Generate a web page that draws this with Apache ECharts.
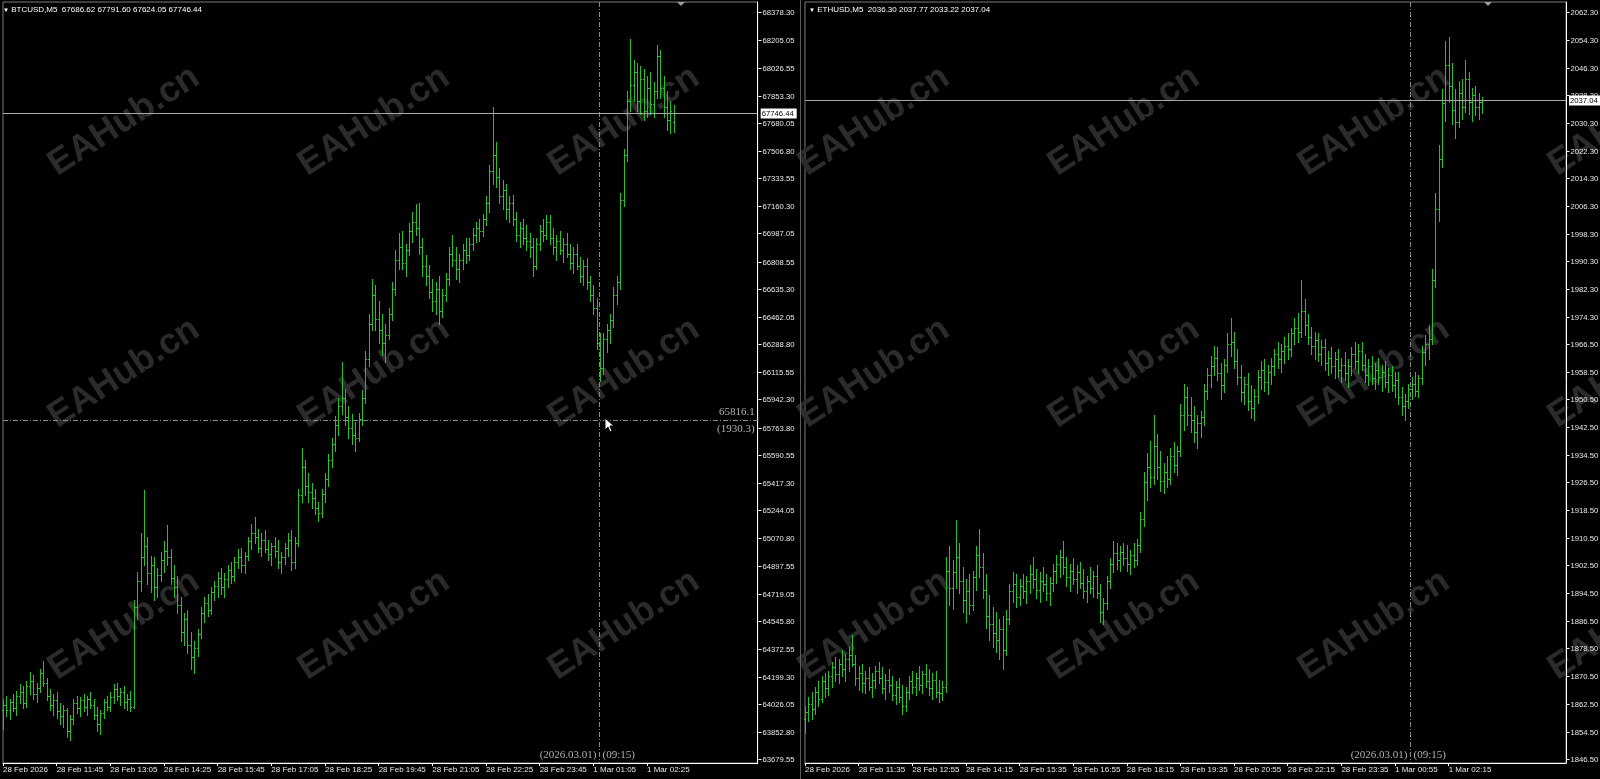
<!DOCTYPE html>
<html>
<head>
<meta charset="utf-8">
<script src="https://cdn.jsdelivr.net/npm/echarts@6/dist/echarts.min.js"></script>
<style>
  html, body { margin: 0; padding: 0; background: #000; }
  #main { width: 1600px; height: 779px; }
</style>
</head>
<body>
<div id="main"></div>
<script>
const btcYTickLabels = ["68378.30","68205.05","68026.55","67853.30","67680.05","67506.80","67333.55","67160.30","66987.05","66808.55","66635.30","66462.05","66288.80","66115.55","65942.30","65763.80","65590.55","65417.30","65244.05","65070.80","64897.55","64719.05","64545.80","64372.55","64199.30","64026.05","63852.80","63679.55"];
const ethYTickLabels = ["2062.30","2054.30","2046.30","2038.30","2030.30","2022.30","2014.30","2006.30","1998.30","1990.30","1982.30","1974.30","1966.50","1958.50","1950.50","1942.50","1934.50","1926.50","1918.50","1910.50","1902.50","1894.50","1886.50","1878.50","1870.50","1862.50","1854.50","1846.50"];
const btcXTickLabels = ["28 Feb 2026","28 Feb 11:45","28 Feb 13:05","28 Feb 14:25","28 Feb 15:45","28 Feb 17:05","28 Feb 18:25","28 Feb 19:45","28 Feb 21:05","28 Feb 22:25","28 Feb 23:45","1 Mar 01:05","1 Mar 02:25"];
const ethXTickLabels = ["28 Feb 2026","28 Feb 11:35","28 Feb 12:55","28 Feb 14:15","28 Feb 15:35","28 Feb 16:55","28 Feb 18:15","28 Feb 19:35","28 Feb 20:55","28 Feb 22:15","28 Feb 23:35","1 Mar 00:55","1 Mar 02:15"];

// M5 bars: [open, high, low, close]
const btcBars = [
  [63990,64060,63870,64020],[64020,64080,63950,63990],[63990,64060,63930,64040],[64040,64090,63980,64000],[64000,64110,63960,64080],
  [64080,64150,64030,64100],[64100,64140,64000,64030],[64030,64170,64010,64140],[64140,64230,64090,64170],[64170,64210,64060,64090],
  [64090,64160,64040,64130],[64130,64250,64100,64220],[64220,64300,64140,64160],[64160,64190,64050,64080],[64080,64120,63990,64020],
  [64020,64090,63960,64050],[64050,64100,63940,63980],[63980,64030,63900,63950],[63950,64020,63880,63990],[63990,64000,63820,63860],
  [63860,63960,63800,63930],[63930,64060,63900,64030],[64030,64080,63970,64000],[64000,64070,63950,64050],[64050,64090,63980,64010],
  [64010,64080,63960,64060],[64060,64100,64000,64020],[64020,64060,63930,63960],[63960,64010,63860,63900],[63900,63990,63840,63970],
  [63970,64060,63940,64040],[64040,64080,63990,64010],[64010,64100,63980,64070],[64070,64150,64030,64120],[64120,64160,64050,64080],
  [64080,64130,64020,64100],[64100,64140,64000,64040],[64040,64090,63990,64060],[64060,64110,63980,64010],[64010,64680,64000,64640],
  [64640,64860,64560,64800],[64800,65100,64740,64950],[64950,65370,64900,65020],[65020,65080,64780,64850],[64850,64960,64730,64900],
  [64900,64950,64680,64760],[64760,64880,64700,64840],[64840,64980,64800,64930],[64930,65050,64860,64990],[64990,65150,64900,64950],
  [64950,65000,64780,64820],[64820,64900,64700,64760],[64760,64830,64600,64650],[64650,64700,64420,64480],[64480,64600,64400,64560],
  [64560,64620,64350,64400],[64400,64480,64250,64320],[64320,64420,64220,64380],[64380,64500,64330,64470],[64470,64640,64440,64600],
  [64600,64700,64540,64660],[64660,64720,64580,64620],[64620,64760,64590,64730],[64730,64800,64680,64770],[64770,64860,64700,64820],
  [64820,64880,64720,64760],[64760,64850,64700,64810],[64810,64900,64760,64870],[64870,64920,64790,64830],[64830,64950,64800,64920],
  [64920,65000,64880,64950],[64950,65010,64860,64900],[64900,64980,64850,64960],[64960,65080,64930,65050],[65050,65160,65000,65100],
  [65100,65200,65040,65080],[65080,65130,64980,65010],[65010,65100,64960,65060],[65060,65120,64980,65000],[65000,65060,64930,64970],
  [64970,65040,64900,65020],[65020,65080,64950,64990],[64990,65060,64880,64920],[64920,64980,64850,64950],[64950,65040,64910,65010],
  [65010,65100,64960,65060],[65060,65120,64870,64920],[64920,65080,64880,65040],[65040,65380,65020,65340],[65340,65640,65300,65520],
  [65520,65560,65340,65400],[65400,65480,65300,65360],[65360,65420,65260,65320],[65320,65380,65220,65260],[65260,65300,65180,65230],
  [65230,65380,65200,65350],[65350,65480,65300,65440],[65440,65600,65400,65560],[65560,65700,65520,65660],[65660,65840,65620,65780],
  [65780,65950,65720,65900],[65900,66180,65850,65950],[65950,66010,65780,65830],[65830,65900,65700,65760],[65760,65850,65660,65720],
  [65720,65800,65620,65700],[65700,65860,65680,65820],[65820,66000,65780,65950],[65950,66250,65920,66200],[66200,66480,66150,66420],
  [66420,66700,66380,66600],[66600,66660,66380,66450],[66450,66560,66300,66380],[66380,66480,66220,66300],[66300,66420,66180,66350],
  [66350,66520,66320,66480],[66480,66680,66440,66640],[66640,66880,66600,66820],[66820,66990,66760,66900],[66900,67000,66760,66800],
  [66800,66920,66720,66880],[66880,67050,66850,67000],[67000,67120,66930,67060],[67060,67170,66980,67020],[67020,67180,66860,66900],
  [66900,66960,66720,66780],[66780,66850,66660,66720],[66720,66790,66580,66620],[66620,66700,66500,66560],[66560,66680,66480,66640],
  [66640,66720,66420,66500],[66500,66640,66460,66600],[66600,66740,66560,66700],[66700,66900,66660,66860],[66860,66980,66780,66820],
  [66820,66900,66700,66760],[66760,66860,66680,66820],[66820,66920,66760,66880],[66880,66960,66800,66850],[66850,66960,66820,66920],
  [66920,67020,66880,66980],[66980,67060,66930,67020],[67020,67080,66940,67000],[67000,67110,66970,67080],[67080,67220,67040,67180],
  [67180,67420,67120,67380],[67380,67780,67300,67480],[67480,67560,67280,67340],[67340,67400,67180,67220],[67220,67320,67140,67260],
  [67260,67300,67080,67140],[67140,67220,67060,67180],[67180,67230,67040,67080],[67080,67120,66940,66980],[66980,67060,66900,67020],
  [67020,67080,66920,66960],[66960,67040,66880,66940],[66940,66990,66840,66900],[66900,66960,66720,66780],[66780,66960,66760,66920],
  [66920,67040,66880,67000],[67000,67080,66940,66980],[66980,67100,66950,67060],[67060,67100,66920,66960],[66960,67020,66860,66900],
  [66900,66980,66820,66940],[66940,67000,66860,66880],[66880,66960,66810,66920],[66920,66990,66840,66860],[66860,66920,66760,66800],
  [66800,66900,66740,66860],[66860,66920,66760,66780],[66780,66840,66680,66720],[66720,66820,66660,66780],[66780,66830,66640,66680],
  [66680,66720,66560,66600],[66600,66660,66480,66520],[66520,66580,66260,66300],[66300,66360,66060,66140],[66140,66360,66100,66320],
  [66320,66420,66240,66380],[66380,66480,66300,66440],[66440,66650,66400,66600],[66600,66720,66540,66680],[66680,67240,66640,67200],
  [67200,67520,67160,67480],[67480,67880,67440,67820],[67820,68210,67760,67920],[67920,68080,67820,68000],[68000,68060,67760,67820],
  [67820,68040,67740,67960],[67960,68020,67700,67760],[67760,67980,67720,67900],[67900,68000,67740,67800],[67800,67940,67720,67880],
  [67880,68170,67840,68100],[68100,68140,67840,67900],[67900,67980,67720,67780],[67780,67880,67640,67700],[67700,67820,67620,67760],
  [67686.62,67791.60,67624.05,67746.44]
];

const ethBars = [
  [1858.0,1862.0,1854.0,1860.0],[1860.0,1864.5,1857.5,1862.5],[1862.5,1866.0,1858.0,1861.0],[1861.0,1867.5,1859.5,1866.0],[1866.0,1869.0,1862.0,1864.0],
  [1864.0,1870.5,1863.0,1869.0],[1869.0,1871.5,1864.5,1867.0],[1867.0,1872.0,1865.0,1870.5],[1870.5,1874.5,1867.5,1873.0],[1873.0,1876.0,1869.0,1871.0],
  [1871.0,1875.5,1868.5,1874.0],[1874.0,1878.0,1870.5,1872.5],[1872.5,1877.0,1869.0,1875.5],[1875.5,1879.0,1872.0,1876.5],[1876.5,1882.5,1873.5,1874.0],
  [1874.0,1876.5,1868.0,1870.0],[1870.0,1873.5,1866.5,1871.5],[1871.5,1874.0,1866.0,1868.5],[1868.5,1872.0,1865.5,1870.0],[1870.0,1873.0,1866.5,1867.5],
  [1867.5,1871.5,1864.5,1869.5],[1869.5,1873.5,1867.0,1872.0],[1872.0,1874.5,1868.5,1870.0],[1870.0,1873.0,1865.5,1867.0],[1867.0,1871.0,1864.0,1869.5],
  [1869.5,1872.5,1866.0,1868.0],[1868.0,1870.5,1863.5,1865.0],[1865.0,1869.0,1862.5,1867.5],[1867.5,1870.0,1863.0,1864.5],[1864.5,1868.0,1859.5,1862.0],
  [1862.0,1867.5,1860.5,1866.0],[1866.0,1870.5,1864.0,1869.0],[1869.0,1872.0,1865.5,1867.5],[1867.5,1871.5,1865.0,1870.0],[1870.0,1873.5,1866.5,1868.0],
  [1868.0,1872.0,1865.5,1871.0],[1871.0,1874.0,1867.5,1869.0],[1869.0,1872.5,1865.0,1867.0],[1867.0,1871.5,1864.0,1869.5],[1869.5,1872.0,1864.5,1866.0],
  [1866.0,1869.5,1863.0,1865.5],[1865.5,1869.0,1863.5,1867.5],[1867.5,1905.0,1866.0,1901.0],[1901.0,1908.0,1891.0,1896.0],[1896.0,1904.0,1890.0,1900.5],
  [1900.5,1915.5,1896.0,1905.0],[1905.0,1909.0,1894.5,1898.0],[1898.0,1902.0,1889.0,1892.5],[1892.5,1898.5,1886.0,1895.0],[1895.0,1900.0,1888.5,1891.0],
  [1891.0,1901.0,1889.5,1899.0],[1899.0,1908.0,1895.5,1905.5],[1905.5,1913.0,1899.0,1902.0],[1902.0,1906.0,1893.0,1895.5],[1895.5,1900.0,1884.5,1888.0],
  [1888.0,1894.0,1881.0,1885.5],[1885.5,1890.5,1879.0,1883.0],[1883.0,1889.0,1877.5,1881.0],[1881.0,1887.0,1875.5,1884.0],[1884.0,1888.0,1872.5,1878.0],
  [1878.0,1889.5,1876.5,1887.0],[1887.0,1897.0,1885.5,1895.0],[1895.0,1900.5,1892.0,1897.0],[1897.0,1900.0,1890.5,1893.5],[1893.5,1898.5,1891.0,1896.5],
  [1896.5,1900.0,1893.0,1895.0],[1895.0,1899.5,1891.5,1898.0],[1898.0,1902.5,1894.5,1900.0],[1900.0,1905.0,1896.0,1898.5],[1898.5,1901.5,1893.0,1895.5],
  [1895.5,1900.5,1892.0,1898.0],[1898.0,1902.0,1895.0,1897.0],[1897.0,1900.0,1892.5,1894.5],[1894.5,1899.0,1891.0,1897.5],[1897.5,1903.0,1895.0,1901.0],
  [1901.0,1905.5,1897.5,1903.0],[1903.0,1907.0,1899.0,1905.0],[1905.0,1909.5,1900.0,1902.0],[1902.0,1905.0,1896.5,1899.0],[1899.0,1903.0,1895.0,1901.0],
  [1901.0,1904.5,1897.0,1898.5],[1898.5,1902.5,1894.5,1900.5],[1900.5,1903.5,1896.0,1897.5],[1897.5,1901.5,1893.0,1895.0],[1895.0,1899.5,1892.0,1898.0],
  [1898.0,1902.0,1894.5,1896.0],[1896.0,1901.0,1893.5,1899.5],[1899.5,1902.5,1893.0,1894.5],[1894.5,1897.0,1886.0,1889.0],[1889.0,1893.0,1885.5,1891.5],
  [1891.5,1899.5,1890.0,1898.0],[1898.0,1904.5,1896.0,1903.0],[1903.0,1909.5,1900.5,1906.0],[1906.0,1909.0,1901.5,1904.0],[1904.0,1908.0,1901.0,1906.5],
  [1906.5,1909.0,1902.5,1904.5],[1904.5,1908.5,1901.0,1903.0],[1903.0,1907.0,1900.0,1905.5],[1905.5,1909.0,1902.0,1904.0],[1904.0,1910.0,1902.5,1908.5],
  [1908.5,1918.0,1906.5,1916.0],[1916.0,1929.5,1914.0,1926.5],[1926.5,1935.0,1921.5,1931.0],[1931.0,1938.5,1925.0,1928.0],[1928.0,1946.0,1926.0,1937.0],
  [1937.0,1940.5,1927.5,1931.0],[1931.0,1935.5,1924.0,1927.0],[1927.0,1932.0,1923.5,1929.5],[1929.5,1934.0,1925.0,1927.5],[1927.5,1936.5,1926.0,1934.0],
  [1934.0,1938.0,1929.5,1931.5],[1931.5,1937.0,1928.5,1935.5],[1935.5,1949.0,1934.0,1946.0],[1946.0,1955.0,1941.5,1951.0],[1951.0,1954.0,1943.0,1946.0],
  [1946.0,1951.0,1941.0,1944.5],[1944.5,1948.5,1938.0,1941.0],[1941.0,1946.0,1936.5,1943.5],[1943.5,1947.0,1939.5,1945.5],[1945.5,1955.0,1943.0,1953.0],
  [1953.0,1959.5,1950.5,1957.5],[1957.5,1963.0,1954.0,1960.0],[1960.0,1966.0,1957.5,1962.5],[1962.5,1965.5,1956.0,1958.0],[1958.0,1961.0,1950.5,1954.5],
  [1954.5,1962.0,1952.5,1960.5],[1960.5,1969.5,1958.5,1966.5],[1966.5,1974.0,1963.0,1967.0],[1967.0,1970.0,1959.5,1961.5],[1961.5,1965.0,1955.0,1957.0],
  [1957.0,1960.5,1950.0,1952.5],[1952.5,1957.0,1949.0,1955.0],[1955.0,1958.0,1947.5,1950.0],[1950.0,1954.5,1945.0,1948.0],[1948.0,1953.5,1944.5,1951.5],
  [1951.5,1959.0,1949.5,1957.0],[1957.0,1961.5,1953.5,1959.0],[1959.0,1962.0,1953.0,1955.5],[1955.5,1960.5,1952.0,1958.5],[1958.5,1962.5,1955.0,1960.0],
  [1960.0,1965.0,1957.5,1963.5],[1963.5,1967.0,1959.5,1962.0],[1962.0,1966.5,1958.5,1964.5],[1964.5,1968.5,1961.0,1966.0],[1966.0,1969.5,1962.0,1965.0],
  [1965.0,1971.0,1963.0,1969.5],[1969.5,1974.0,1966.5,1971.0],[1971.0,1975.5,1967.0,1970.0],[1970.0,1985.0,1968.5,1976.0],[1976.0,1979.5,1969.0,1972.0],
  [1972.0,1975.0,1966.5,1968.5],[1968.5,1971.5,1963.5,1966.0],[1966.0,1970.0,1962.0,1967.5],[1967.5,1969.5,1961.5,1963.5],[1963.5,1967.5,1960.5,1965.5],
  [1965.5,1968.0,1959.0,1961.0],[1961.0,1964.5,1957.5,1962.5],[1962.5,1965.5,1958.0,1960.0],[1960.0,1964.0,1956.5,1962.0],[1962.0,1965.0,1957.0,1959.0],
  [1959.0,1962.5,1955.5,1960.5],[1960.5,1964.0,1956.0,1958.0],[1958.0,1962.0,1954.0,1960.0],[1960.0,1965.5,1957.5,1963.5],[1963.5,1967.0,1959.5,1961.5],
  [1961.5,1966.5,1958.0,1964.5],[1964.5,1967.0,1959.0,1960.5],[1960.5,1963.5,1955.5,1957.5],[1957.5,1962.0,1954.5,1960.0],[1960.0,1963.0,1955.0,1956.5],
  [1956.5,1961.0,1953.5,1959.0],[1959.0,1962.5,1955.0,1957.0],[1957.0,1960.5,1953.0,1958.5],[1958.5,1961.5,1954.0,1955.5],[1955.5,1959.5,1952.5,1957.5],
  [1957.5,1960.0,1953.0,1954.5],[1954.5,1958.5,1951.0,1956.0],[1956.0,1958.5,1949.0,1951.0],[1951.0,1954.0,1946.0,1948.5],[1948.5,1952.0,1944.5,1950.0],
  [1950.0,1955.0,1948.0,1953.5],[1953.5,1957.0,1950.5,1955.0],[1955.0,1958.5,1951.5,1953.0],[1953.0,1957.5,1951.0,1956.5],[1956.5,1966.0,1955.0,1964.0],
  [1964.0,1969.0,1960.5,1966.5],[1966.5,1972.0,1962.0,1968.0],[1968.0,1988.0,1966.5,1985.0],[1985.0,2010.0,1983.0,2005.5],[2005.5,2024.0,2002.0,2020.0],
  [2020.0,2040.0,2017.5,2036.0],[2036.0,2054.0,2031.0,2047.0],[2047.0,2055.0,2036.5,2041.0],[2041.0,2047.5,2030.0,2034.0],[2034.0,2040.0,2026.0,2030.5],
  [2030.5,2042.5,2029.0,2039.0],[2039.0,2043.0,2031.5,2035.0],[2035.0,2048.5,2033.5,2043.0],[2043.0,2045.0,2033.0,2036.5],[2036.5,2040.5,2031.0,2038.5],
  [2038.5,2041.0,2032.5,2035.0],[2035.0,2039.0,2031.5,2036.3],[2036.30,2037.77,2033.22,2037.04]
];

// crosshair readout (from the picture)
const btcCross = { index: 177.8, price: 65816.1, upper: "65816.1", lower: "(1930.3)", date: "(2026.03.01)", time: "(09:15)" };
const ethCross = { index: 180.5, date: "(2026.03.01)", time: "(09:15)" };

const BAR_COLOR = "#25c425";
const FONT = '"Liberation Sans", Arial, sans-serif';
const SERIF = '"Liberation Serif", "DejaVu Serif", serif';
const FS = 8;
const FS_Y = 7.7;

const chart = echarts.init(document.getElementById("main"));

function xAxisFor(gi, n, labels) {
  const show = (i) => i % 16 === 0 && i / 16 < labels.length;
  return {
    type: "category",
    gridIndex: gi,
    boundaryGap: false,
    data: Array.from({ length: n }, (_, i) => String(i)),
    axisLine: { lineStyle: { color: "#ffffff", width: 1 } },
    axisTick: { interval: show, length: 3, lineStyle: { color: "#ffffff" } },
    axisLabel: {
      interval: show,
      formatter: (v, i) => labels[i / 16] || "",
      align: "left",
      margin: 3,
      color: "#e8e8e8",
      fontSize: FS,
      fontFamily: FONT,
    },
    splitLine: { show: false },
  };
}

function yAxisFor(gi, min, max) {
  return {
    type: "value",
    gridIndex: gi,
    position: "right",
    min: min,
    max: max,
    axisLine: { show: true, lineStyle: { color: "#ffffff", width: 1 } },
    axisTick: { show: false },
    axisLabel: { show: false },
    splitLine: { show: false },
  };
}

function barSeries(gi, bars) {
  return {
    type: "custom",
    xAxisIndex: gi,
    yAxisIndex: gi,
    silent: true,
    animation: false,
    data: bars.map((b, i) => [i, b[0], b[1], b[2], b[3]]),
    encode: { x: 0, y: [1, 2, 3, 4] },
    renderItem: (params, api) => {
      const i = api.value(0);
      const o = api.coord([i, api.value(1)]);
      const h = api.coord([i, api.value(2)]);
      const l = api.coord([i, api.value(3)]);
      const c = api.coord([i, api.value(4)]);
      const n = Math.round(o[0]);
      const x = n + 0.5;
      const oy = Math.round(o[1]) + 0.5;
      const cy = Math.round(c[1]) + 0.5;
      const st = { stroke: BAR_COLOR, lineWidth: 1 };
      return {
        type: "group",
        children: [
          { type: "line", shape: { x1: x, y1: Math.round(h[1]), x2: x, y2: Math.round(l[1]) + 1 }, style: st },
          { type: "line", shape: { x1: n - 1, y1: oy, x2: n + 1, y2: oy }, style: st },
          { type: "line", shape: { x1: n, y1: cy, x2: n + 2, y2: cy }, style: st },
        ],
      };
    },
  };
}

function yTickSeries(gi, labels) {
  return {
    type: "custom",
    xAxisIndex: gi,
    yAxisIndex: gi,
    silent: true,
    animation: false,
    clip: false,
    z: 5,
    data: labels.map((s) => [0, parseFloat(s)]),
    renderItem: (params, api) => {
      const cs = params.coordSys;
      const y = Math.round(api.coord([0, api.value(1)])[1]) + 0.5;
      const x0 = Math.round(cs.x + cs.width) + 0.5;
      return {
        type: "group",
        children: [
          { type: "line", shape: { x1: x0, y1: y, x2: x0 + 3, y2: y }, style: { stroke: "#ffffff", lineWidth: 1 } },
          { type: "text", x: x0 + 4, y: y, style: { text: labels[params.dataIndex], fill: "#e8e8e8", fontSize: FS_Y, fontFamily: FONT, verticalAlign: "middle", align: "left" } },
        ],
      };
    },
  };
}

function priceLineSeries(gi, price, text, boxW) {
  return {
    type: "custom",
    xAxisIndex: gi,
    yAxisIndex: gi,
    silent: true,
    animation: false,
    clip: false,
    z: 6,
    data: [[0, price]],
    renderItem: (params, api) => {
      const cs = params.coordSys;
      const y = Math.round(api.coord([0, api.value(1)])[1]) + 0.5;
      const x0 = cs.x + cs.width;
      return {
        type: "group",
        children: [
          { type: "line", shape: { x1: cs.x, y1: y, x2: x0, y2: y }, style: { stroke: "#a8a8a8", lineWidth: 1 } },
          { type: "rect", shape: { x: x0 + 3, y: y - 5, width: boxW, height: 10 }, style: { fill: "#ffffff" } },
          { type: "text", x: x0 + 4, y: y, style: { text: text, fill: "#000000", fontSize: FS_Y, fontFamily: FONT, verticalAlign: "middle", align: "left" } },
        ],
      };
    },
  };
}

function crossSeries(gi, cross, priceForY) {
  return {
    type: "custom",
    xAxisIndex: gi,
    yAxisIndex: gi,
    silent: true,
    animation: false,
    clip: false,
    z: 4,
    data: [[0, priceForY]],
    renderItem: (params, api) => {
      const cs = params.coordSys;
      const i0 = Math.floor(cross.index);
      const f = cross.index - i0;
      const a = api.coord([i0, api.value(1)]);
      const b = api.coord([i0 + 1, api.value(1)]);
      const x = Math.round(a[0] + (b[0] - a[0]) * f) + 0.5;
      const y = Math.round(a[1]) + 0.5;
      const dash = { stroke: "#8a8a8a", lineWidth: 1, lineDash: [5, 2, 1, 2] };
      const txt = (s, tx, ty, align) => ({
        type: "text", x: tx, y: ty,
        style: { text: s, fill: "#b0b0b0", fontSize: 11, fontFamily: SERIF, align: align, verticalAlign: "middle" },
      });
      const kids = [
        { type: "line", shape: { x1: x, y1: cs.y, x2: x, y2: cs.y + cs.height }, style: dash },
        txt(cross.date, x - 3, cs.y + cs.height - 8, "right"),
        txt(cross.time, x + 3, cs.y + cs.height - 8, "left"),
      ];
      if (cross.upper) {
        const xr = cs.x + cs.width - 3;
        kids.push({ type: "line", shape: { x1: cs.x, y1: y, x2: cs.x + cs.width, y2: y }, style: dash });
        kids.push(txt(cross.upper, xr, y - 8, "right"));
        kids.push(txt(cross.lower, xr, y + 9, "right"));
      }
      return { type: "group", children: kids };
    },
  };
}

const btcLast = btcBars[btcBars.length - 1];
const ethLast = ethBars[ethBars.length - 1];

// watermark grid
const watermarks = [];
for (let r = 0; r < 3; r++) {
  for (let c = 0; c < 7; c++) {
    watermarks.push({
      type: "text",
      x: 124 + c * 250,
      y: 121 + r * 252,
      rotation: (33 * Math.PI) / 180,
      z: 0,
      silent: true,
      style: {
        text: "EAHub.cn",
        fill: "#2b2b2b",
        fontSize: 36,
        fontWeight: "bold",
        fontFamily: FONT,
        align: "center",
        verticalAlign: "middle",
      },
    });
  }
}

const titleStyle = {
  color: "#ffffff", fontSize: FS, fontWeight: "normal", fontFamily: FONT,
  rich: { t: { fontSize: 6, color: "#ffffff" } },
};

const option = {
  backgroundColor: "#000000",
  animation: false,
  title: [
    { text: "{t|▼} BTCUSD,M5  " + btcLast.map((v) => v.toFixed(2)).join(" "), left: 3, top: 6, padding: 0, textStyle: titleStyle },
    { text: "{t|▼} ETHUSD,M5  " + ethLast.map((v) => v.toFixed(2)).join(" "), left: 809, top: 6, padding: 0, textStyle: titleStyle },
  ],
  grid: [
    { left: 2, top: 2, width: 755.7, height: 761, show: true, borderColor: "#7a7a7a", borderWidth: 1 },
    { left: 805, top: 2, width: 761, height: 761, show: true, borderColor: "#7a7a7a", borderWidth: 1 },
  ],
  xAxis: [xAxisFor(0, 226, btcXTickLabels), xAxisFor(1, 228, ethXTickLabels)],
  yAxis: [yAxisFor(0, 63655.6, 68442.5), yAxisFor(1, 1845.4, 2065.25)],
  graphic: [
    ...watermarks,
    { type: "line", shape: { x1: 800.5, y1: 0, x2: 800.5, y2: 779 }, style: { stroke: "#5a5a5a", lineWidth: 1 }, z: 1 },
    { type: "polygon", shape: { points: [[677, 2], [685, 2], [681, 6]] }, style: { fill: "#9a9a9a" }, z: 10 },
    { type: "polygon", shape: { points: [[1484, 2], [1492, 2], [1488, 6]] }, style: { fill: "#9a9a9a" }, z: 10 },
    {
      type: "polygon", z: 20,
      shape: { points: [[605, 418], [605, 430], [608, 427], [610, 432], [612, 431], [610, 426], [614, 426]] },
      style: { fill: "#ffffff", stroke: "#000000", lineWidth: 1 },
    },
  ],
  series: [
    crossSeries(0, btcCross, btcCross.price),
    crossSeries(1, ethCross, 1950),
    barSeries(0, btcBars),
    barSeries(1, ethBars),
    yTickSeries(0, btcYTickLabels),
    yTickSeries(1, ethYTickLabels),
    priceLineSeries(0, btcLast[3], btcLast[3].toFixed(2), 36),
    priceLineSeries(1, ethLast[3], ethLast[3].toFixed(2), 33),
  ],
};

chart.setOption(option);
</script>
</body>
</html>
